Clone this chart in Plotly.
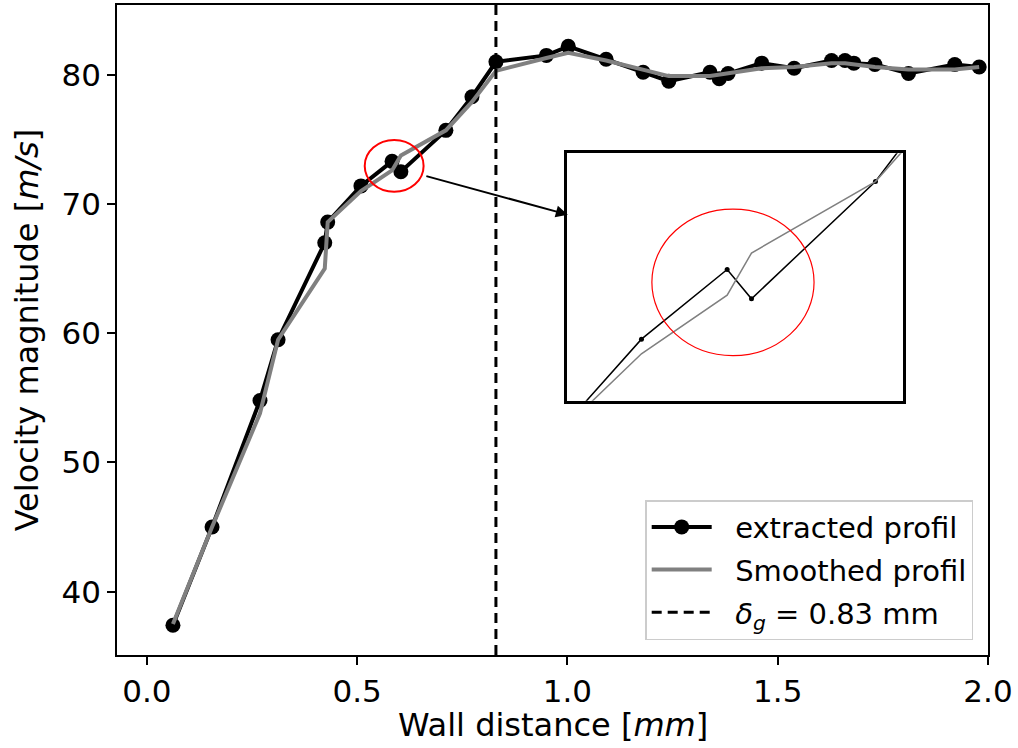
import plotly.graph_objects as go

# Wall distance [mm] of extracted samples
wall_distance = [0.062, 0.155, 0.269, 0.312, 0.423, 0.430, 0.509, 0.583, 0.604, 0.711,
                 0.773, 0.830, 0.950, 1.002, 1.092, 1.180, 1.241, 1.339, 1.361, 1.382,
                 1.462, 1.539, 1.628, 1.660, 1.681, 1.731, 1.811, 1.921, 1.979]
# Extracted velocity profile [m/s]
extracted = [37.4, 45.0, 54.8, 59.5, 67.0, 68.6, 71.4, 73.3, 72.5, 75.7,
             78.3, 81.0, 81.5, 82.2, 81.2, 80.2, 79.5, 80.2, 79.7, 80.1,
             80.9, 80.5, 81.1, 81.1, 80.9, 80.8, 80.1, 80.8, 80.6]
# Smoothed velocity profile [m/s]
smoothed = [37.5, 45.0, 53.8, 59.5, 65.0, 68.6, 71.0, 72.6, 73.75, 75.7,
            77.9, 80.3, 81.3, 81.7, 81.1, 80.4, 79.9, 79.9, 80.0, 80.1,
            80.5, 80.6, 80.9, 80.9, 80.8, 80.6, 80.4, 80.4, 80.6]

delta_g = 0.83
x_range = [-0.071, 2.0]
y_range = [35.1, 85.4]
x_ticks = [0.0, 0.5, 1.0, 1.5, 2.0]
y_ticks = [40, 50, 60, 70, 80]
inset_x_range = [0.445, 0.735]
inset_y_range = [69.72, 76.47]
circle_x = [0.518, 0.658]
circle_y = [70.95, 74.95]
x_title = "Wall distance [<i>mm</i>]"
y_title = "Velocity magnitude [<i>m/s</i>]"

FONT = "DejaVu Sans"
GRAY = "#808080"
PAD = "\u00a0\u00a0"

fig = go.Figure()

fig.add_trace(go.Scatter(
    x=wall_distance, y=extracted, mode="lines+markers", name=PAD + "extracted profil",
    legendgroup="a",
    line=dict(color="black", width=4), marker=dict(color="black", size=15),
    xaxis="x", yaxis="y"))
fig.add_trace(go.Scatter(
    x=wall_distance, y=smoothed, mode="lines", name=PAD + "Smoothed profil",
    legendgroup="b",
    line=dict(color=GRAY, width=4), xaxis="x", yaxis="y"))
fig.add_trace(go.Scatter(
    x=[delta_g, delta_g], y=y_range, mode="lines",
    name=PAD + "<i>δ<sub>g</sub></i> = 0.83 mm", legendgroup="c",
    line=dict(color="black", width=3, dash="10px,6px"), xaxis="x", yaxis="y"))

# Inset (zoomed view)
fig.add_trace(go.Scatter(
    x=wall_distance, y=extracted, mode="lines+markers", showlegend=False,
    line=dict(color="black", width=1.5), marker=dict(color="black", size=5),
    xaxis="x2", yaxis="y2"))
fig.add_trace(go.Scatter(
    x=wall_distance, y=smoothed, mode="lines", showlegend=False,
    line=dict(color=GRAY, width=1.5), xaxis="x2", yaxis="y2"))

fig.add_shape(type="circle", xref="x", yref="y",
              x0=circle_x[0], x1=circle_x[1], y0=circle_y[0], y1=circle_y[1],
              line=dict(color="red", width=2))
fig.add_shape(type="circle", xref="x2", yref="y2",
              x0=circle_x[0], x1=circle_x[1], y0=circle_y[0], y1=circle_y[1],
              line=dict(color="red", width=1.2))

fig.add_annotation(x=1.001, y=69.17, ax=0.661, ay=72.19, xref="x", yref="y",
                   axref="x", ayref="y", showarrow=True, arrowhead=2,
                   arrowsize=1.2, arrowwidth=2, arrowcolor="black", text="",
                   standoff=0)

# Axis titles
fig.add_annotation(text=x_title, xref="paper", yref="paper", x=0.5, y=-0.107,
                   xanchor="center", yanchor="middle", showarrow=False,
                   font=dict(family=FONT, size=32, color="black"))
fig.add_annotation(text=y_title, xref="paper", yref="paper", x=-0.103, y=0.5,
                   xanchor="center", yanchor="middle", showarrow=False,
                   textangle=-90,
                   font=dict(family=FONT, size=32, color="black"))

fig.update_layout(
    width=1018, height=748,
    margin=dict(l=117, r=30, t=5, b=93, autoexpand=False),
    paper_bgcolor="white", plot_bgcolor="white",
    font=dict(family=FONT, size=31, color="black"),
    xaxis=dict(range=x_range, tickvals=x_ticks, tickformat=".1f",
               automargin=False,
               showgrid=False, zeroline=False, showline=True, mirror=True,
               linecolor="black", linewidth=1.5, ticks="outside", ticklen=8,
               tickwidth=1.5, tickcolor="black", tickfont=dict(size=31)),
    yaxis=dict(range=y_range, tickvals=y_ticks, automargin=False,
               showgrid=False, zeroline=False, showline=True, mirror=True,
               linecolor="black", linewidth=1.5, ticks="outside", ticklen=8,
               tickwidth=1.5, tickcolor="black", tickfont=dict(size=31)),
    xaxis2=dict(domain=[0.517, 0.9027], anchor="y2", range=inset_x_range,
                automargin=False,
                showticklabels=False, ticks="", showgrid=False, zeroline=False,
                showline=True, mirror=True, linecolor="black", linewidth=3),
    yaxis2=dict(domain=[0.3912, 0.7718], anchor="x2", range=inset_y_range,
                automargin=False,
                showticklabels=False, ticks="", showgrid=False, zeroline=False,
                showline=True, mirror=True, linecolor="black", linewidth=3),
    legend=dict(x=0.983, y=0.023, xanchor="right", yanchor="bottom",
                bgcolor="white", bordercolor="#cccccc", borderwidth=1.5,
                font=dict(family=FONT, size=29), itemwidth=60,
                traceorder="grouped", tracegroupgap=2),
    showlegend=True,
)

fig.write_html("out.html", config={"displayModeBar": False},
               post_script="document.body.style.margin='0';document.body.style.overflow='hidden';")
